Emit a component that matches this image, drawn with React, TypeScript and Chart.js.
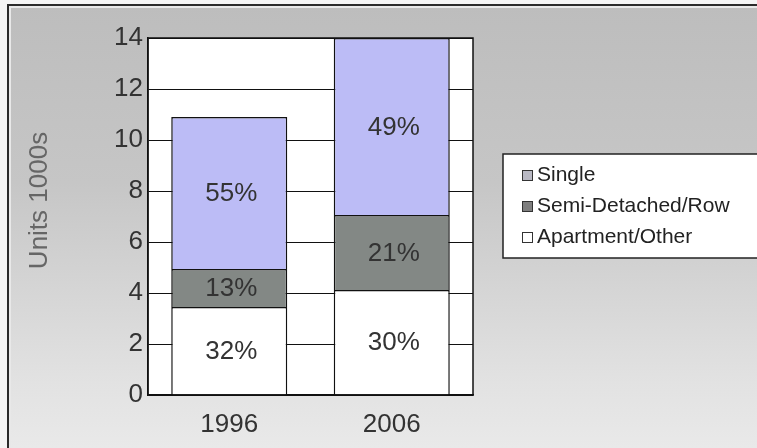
import React, { useEffect, useRef } from "react";
import { Chart, registerables } from "chart.js";

Chart.register(...registerables);

const categories = ["1996", "2006"];
const apartmentValues = [3.45, 4.12];
const semiValues = [1.49, 2.94];
const singleValues = [5.96, 6.94];
const apartmentPct = ["32%", "30%"];
const semiPct = ["13%", "21%"];
const singlePct = ["55%", "49%"];
const yTicks = [0, 2, 4, 6, 8, 10, 12, 14];
const legendLabels = ["Single", "Semi-Detached/Row", "Apartment/Other"];
const yTitle = "Units 1000s";

const FONT = "'Liberation Sans', Arial, sans-serif";

export default function App() {
  const ref = useRef<HTMLCanvasElement | null>(null);

  useEffect(() => {
    document.body.style.margin = "0";
    const canvas = ref.current;
    if (!canvas) return;

    const pctLabels = [apartmentPct, semiPct, singlePct];
    const legendFills = ["#b9b9c4", "#7e7e7e", "#ffffff"];

    const labelPlugin = {
      id: "segLabels",
      afterDatasetsDraw(chart: any) {
        const ctx = chart.ctx;
        ctx.save();
        ctx.font = `26px ${FONT}`;
        ctx.fillStyle = "#333";
        ctx.textAlign = "center";
        ctx.textBaseline = "middle";
        chart.data.datasets.forEach((ds: any, di: number) => {
          const meta = chart.getDatasetMeta(di);
          meta.data.forEach((el: any, i: number) => {
            const y = (el.y + el.base) / 2;
            ctx.fillText(pctLabels[di][i], el.x + 2, y + 1);
          });
        });
        // plot frame
        const a = chart.chartArea;
        ctx.strokeStyle = "#111";
        ctx.lineWidth = 1.5;
        ctx.strokeRect(a.left, a.top, a.right - a.left, a.bottom - a.top);
        // y title
        ctx.save();
        ctx.translate(40, (a.top + a.bottom) / 2 - 16);
        ctx.rotate(-Math.PI / 2);
        ctx.fillStyle = "#666";
        ctx.fillText(yTitle, 0, 0);
        ctx.restore();
        ctx.restore();
      },
    };

    const legendPlugin = {
      id: "boxLegend",
      afterDraw(chart: any) {
        const ctx = chart.ctx;
        const a = chart.chartArea;
        const x0 = a.right + 30;
        const y0 = 154;
        const w = 262;
        const h = 104;
        ctx.save();
        ctx.fillStyle = "#ffffff";
        ctx.fillRect(x0, y0, w, h);
        ctx.strokeStyle = "#222";
        ctx.lineWidth = 1.5;
        ctx.strokeRect(x0, y0, w, h);
        ctx.font = `21px ${FONT}`;
        ctx.textBaseline = "middle";
        ctx.textAlign = "left";
        legendLabels.forEach((lab, i) => {
          const cy = y0 + 21 + i * 31;
          ctx.fillStyle = legendFills[i];
          ctx.fillRect(x0 + 19, cy - 5, 10, 10);
          ctx.strokeStyle = "#333";
          ctx.lineWidth = 1;
          ctx.strokeRect(x0 + 19.5, cy - 4.5, 10, 10);
          ctx.fillStyle = "#222";
          ctx.fillText(lab, x0 + 34, cy);
        });
        ctx.restore();
      },
    };

    const plotBg = {
      id: "plotBg",
      beforeDraw(chart: any) {
        const a = chart.chartArea;
        const ctx = chart.ctx;
        ctx.save();
        ctx.fillStyle = "#ffffff";
        ctx.fillRect(a.left, a.top, a.right - a.left, a.bottom - a.top);
        ctx.restore();
      },
    };

    const chart = new Chart(canvas, {
      type: "bar",
      data: {
        labels: categories,
        datasets: [
          {
            label: legendLabels[2],
            data: apartmentValues,
            backgroundColor: "#ffffff",
            borderColor: "#111",
            borderWidth: 1.5,
            barPercentage: 0.714,
            categoryPercentage: 1,
          },
          {
            label: legendLabels[1],
            data: semiValues,
            backgroundColor: "#838885",
            borderColor: "#111",
            borderWidth: 1.5,
            barPercentage: 0.714,
            categoryPercentage: 1,
          },
          {
            label: legendLabels[0],
            data: singleValues,
            backgroundColor: "#bcbcf6",
            borderColor: "#111",
            borderWidth: 1.5,
            barPercentage: 0.714,
            categoryPercentage: 1,
          },
        ],
      },
      options: {
        animation: false,
        responsive: false,
        devicePixelRatio: 1,
        layout: { padding: { left: 10, top: 38, right: 284, bottom: 0 } },
        plugins: {
          legend: { display: false },
          tooltip: { enabled: false },
          title: { display: false },
        },
        scales: {
          x: {
            stacked: true,
            grid: { display: false },
            border: { display: true, color: "#111", width: 1.5 },
            ticks: {
              color: "#333",
              font: { family: FONT, size: 26 },
              padding: 6,
            },
            afterFit(scale: any) {
              scale.height = 53;
            },
          },
          y: {
            stacked: true,
            min: 0,
            max: 14,
            afterBuildTicks(scale: any) {
              scale.ticks = yTicks.map((v) => ({ value: v }));
            },
            grid: { color: "#111", lineWidth: 1, drawTicks: false },
            border: { display: true, color: "#111", width: 1.5 },
            ticks: {
              color: "#333",
              font: { family: FONT, size: 26 },
              padding: 5,
            },
            title: { display: false },
            afterFit(scale: any) {
              scale.width = 138;
            },
          },
        },
      },
      plugins: [plotBg, labelPlugin, legendPlugin],
    });

    return () => chart.destroy();
  }, []);

  return (
    <div
      style={{
        position: "relative",
        width: 757,
        height: 448,
        background: "#f4f4f4",
        overflow: "hidden",
      }}
    >
      <div
        style={{
          position: "absolute",
          left: 7,
          top: 4,
          right: 0,
          bottom: 0,
          background: "linear-gradient(to bottom, #bdbdbd 0%, #c6c6c6 40%, #e2e2e2 85%, #e9e9e9 100%)",
          borderTop: "2px solid #2a2a2a",
          borderLeft: "2px solid #2a2a2a",
          boxShadow: "inset 2px 2px 0 #e8e8e8",
        }}
      />
      <canvas
        ref={ref}
        width={757}
        height={448}
        style={{ position: "absolute", left: 0, top: 0, width: 757, height: 448 }}
      />
    </div>
  );
}
